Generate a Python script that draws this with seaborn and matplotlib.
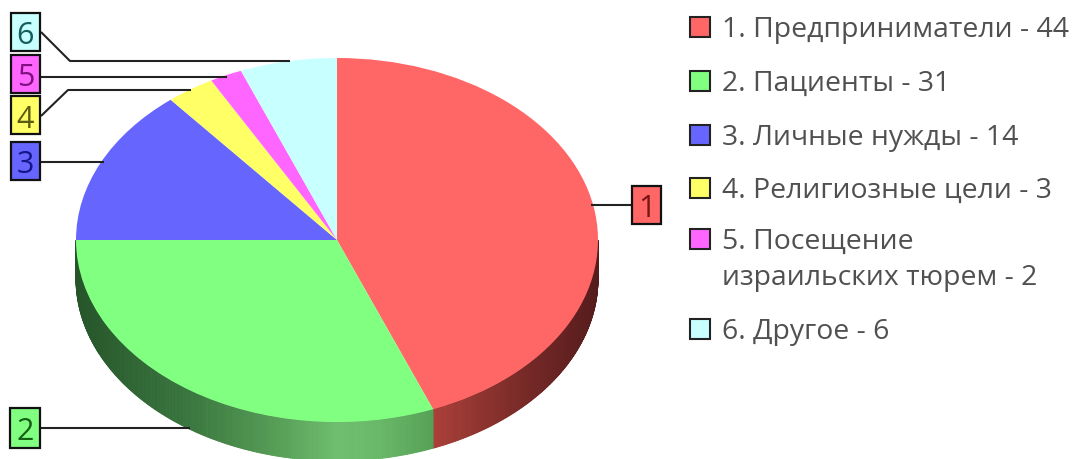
import numpy as np
import matplotlib
matplotlib.use("Agg")
import matplotlib.pyplot as plt
import seaborn as sns

# ---- data ----
categories = ["Предприниматели", "Пациенты", "Личные нужды", "Религиозные цели",
              "Посещение\nизраильских тюрем", "Другое"]
values = [44, 31, 14, 3, 2, 6]
colors = ["#FF6666", "#80FF80", "#6666FF", "#FFFF66", "#FF66FF", "#C8FFFF"]
text_dark = ["#7a1515", "#156015", "#15158a", "#5c5c10", "#801080", "#155c5c"]

W, H = 1079, 460
CX, CY, RX, RY, DEPTH = 337, 241, 261, 182, 39

sns.set_theme(style="white")
plt.rcParams["font.family"] = ["Open Sans", "DejaVu Sans"]

fig = plt.figure(figsize=(W / 100, H / 100), dpi=100, facecolor="white")

# pie axes: one data unit = RX px horizontally and RY px vertically
ax = fig.add_axes([0, 0, 1, 1])
ax.pie(values, colors=colors, startangle=90, counterclock=False,
       wedgeprops={"linewidth": 0, "antialiased": True, "zorder": 3})
ax.set_aspect("auto")
ax.set_xlim(-CX / RX, (W - CX) / RX)
ax.set_ylim(-(H - CY) / RY, CY / RY)
ax.axis("off")

# 3D rim from the same cumulative shares
shares = np.cumsum(values) / np.sum(values)
def shade(stops, x):
    return np.array([np.interp(x, stops[0], stops[1][:, i]) for i in range(3)]) / 255

red_stops = ([0.37, 0.5, 0.75, 1.0], np.array(
    [[170, 62, 56], [150, 55, 50], [115, 40, 38], [85, 28, 28]], float))
green_stops = ([-1.0, -0.6, -0.25, 0.0, 0.15, 0.37], np.array(
    [[38, 85, 42], [55, 115, 60], [85, 155, 85], [110, 190, 110], [105, 185, 105], [85, 160, 85]], float))

def rim(a0, a1, stops):
    th = np.linspace(a0, a1, 260)
    for t0, t1 in zip(th[:-1], th[1:]):
        xs = np.sin([t0, t1, t1, t0])
        ys = np.cos([t0, t1, t1, t0]) - np.array([0, 0, DEPTH, DEPTH]) / RY
        c = shade(stops, (np.sin(t0) + np.sin(t1)) / 2)
        ax.fill(xs, ys, color=c, lw=0.6, zorder=2)

rim(np.pi / 2, 2 * np.pi * shares[0], red_stops)
rim(2 * np.pi * shares[0], 2 * np.pi * shares[1], green_stops)

# overlay in pixel coordinates: callouts and legend
ov = fig.add_axes([0, 0, 1, 1], zorder=5)
ov.set_xlim(0, W)
ov.set_ylim(H, 0)
ov.axis("off")
ov.patch.set_alpha(0)

boxes = {1: (632, 187, 29, 38), 2: (10, 409, 30, 40), 3: (11, 143, 29, 38),
         4: (11, 97, 29, 38), 5: (11, 56, 29, 38), 6: (11, 14, 29, 38)}
leaders = {1: ([591, 632], [206, 206]), 2: ([40, 190], [429, 429]),
           3: ([40, 104], [163, 163]), 4: ([41, 68, 191], [117, 91, 91]),
           5: ([40, 227], [78, 78]), 6: ([41, 70, 290], [33, 62, 62])}
for i in range(6):
    n = i + 1
    x, y, w, h = boxes[n]
    ov.add_patch(plt.Rectangle((x, y), w, h, fc=colors[i], ec="#111111", lw=1.6, zorder=7))
    ov.text(x + w / 2, y + h / 2, str(n), ha="center", va="center_baseline",
            fontsize=22, color=text_dark[i], zorder=8)
    lx, ly = leaders[n]
    ov.plot(lx, ly, color="#222222", lw=1.5, zorder=6, solid_capstyle="butt")

legend_y = [30, 84, 138, 191, 260, 332]
for i, (name, val) in enumerate(zip(categories, values)):
    y = legend_y[i]
    sy = y - 20 if "\n" in name else y - 2
    ov.add_patch(plt.Rectangle((690, sy - 10), 20, 20, fc=colors[i], ec="#222222", lw=1.5))
    ov.text(722, y, f"{i + 1}. {name} - {val}", ha="left", va="center", fontsize=20.4,
            color="#505050", linespacing=1.38)

fig.savefig("out.png", dpi=100, facecolor="white")
